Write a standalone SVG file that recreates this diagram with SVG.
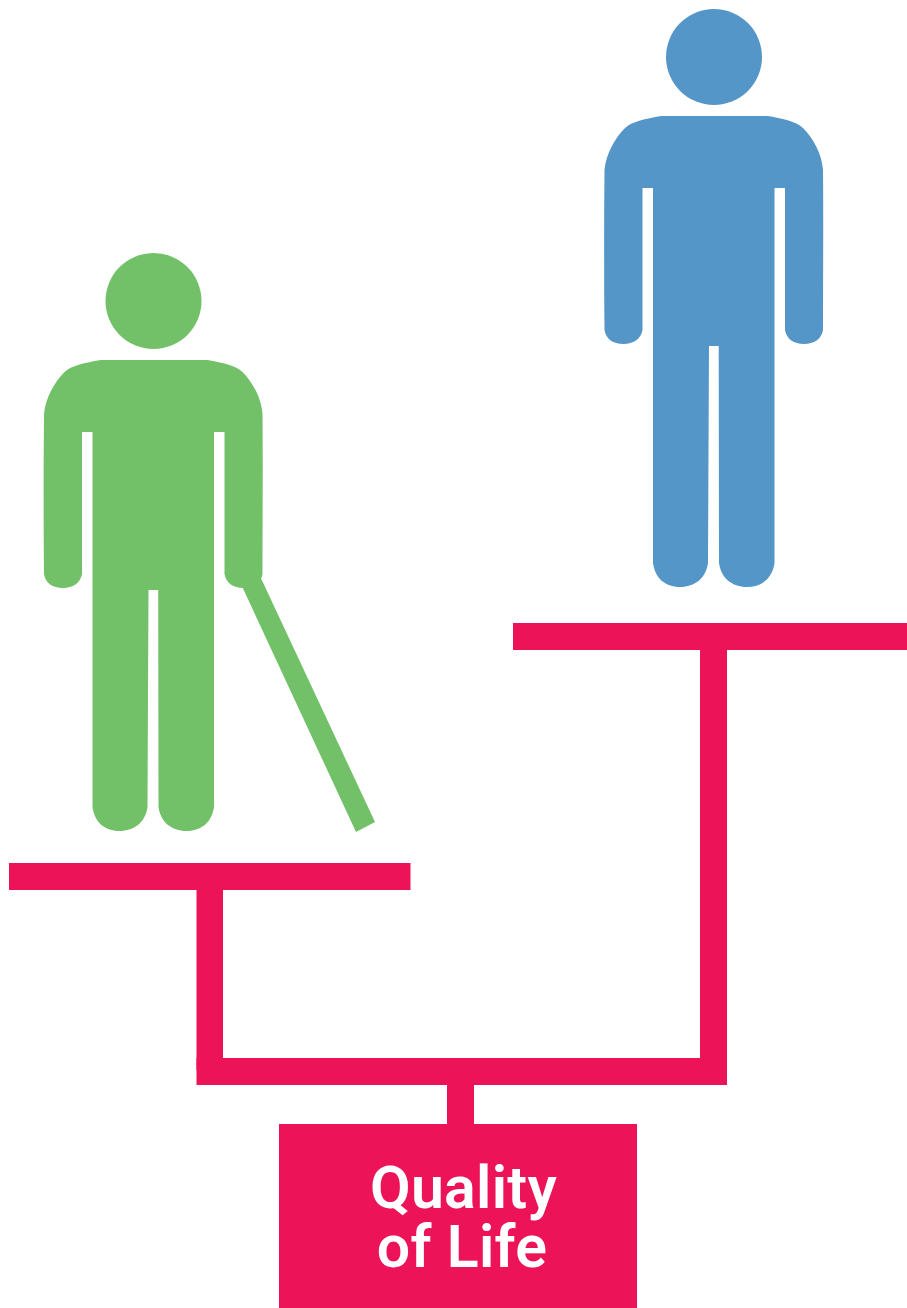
<svg xmlns="http://www.w3.org/2000/svg" width="907" height="1308" viewBox="0 0 907 1308">
<style>
.pink{fill:#ed1358}
.blue{fill:#5596c8}
.green{fill:#72c169}
.label{font-family:"Roboto","Liberation Sans",sans-serif;font-weight:600;font-size:59px;letter-spacing:0.3px;fill:#fff;text-anchor:middle}
</style>
<defs>
<g id="person">
<circle cx="714" cy="57" r="48"/>
<path d="M661 116H768C784 119 795 121 803 128C813 138 822 154 823 170C823.500 220 823 280 823 330C821.500 339 814 344 804 344C794 344 786.500 339 785 330V188H774.500V563C772.500 578 762 587 747 587C732 587 721 578 719 563L718.700 346H709L708 563C706 578 695 587 680 587C665 587 655 578 653 563V188H642.500V330C641 339 633 344 623.500 344C613 344 606 339 604.500 330C604 280 604 220 604.500 170C606 154 615 138 625 128C633 121 645 119 661 116Z"/>
</g>
</defs>
<rect width="907" height="1308" fill="#fff"/>
<g id="connectors">
<rect class="pink" x="196.500" y="880" width="26.500" height="190"/>
<rect class="pink" x="700" y="640" width="27" height="430"/>
<rect class="pink" x="196.500" y="1058" width="530.500" height="27"/>
<rect class="pink" x="447" y="1080" width="27" height="50"/>
</g>
<g id="person-blue"><use href="#person" class="blue"/></g>
<g id="person-green">
<use href="#person" class="green" transform="translate(-560.500 244)"/>
<polygon class="green" points="240,582 259,574 375,822 356,832"/>
</g>
<g id="platform-high"><rect class="pink" x="513" y="623" width="394" height="27"/></g>
<g id="platform-low"><rect class="pink" x="9" y="863" width="401.500" height="27"/></g>
<g id="quality-of-life">
<rect class="pink" x="279" y="1124" width="358" height="184"/>
<text class="label" x="463.500" y="1208">Quality</text>
<text class="label" x="462" y="1267">of Life</text>
</g>
</svg>
